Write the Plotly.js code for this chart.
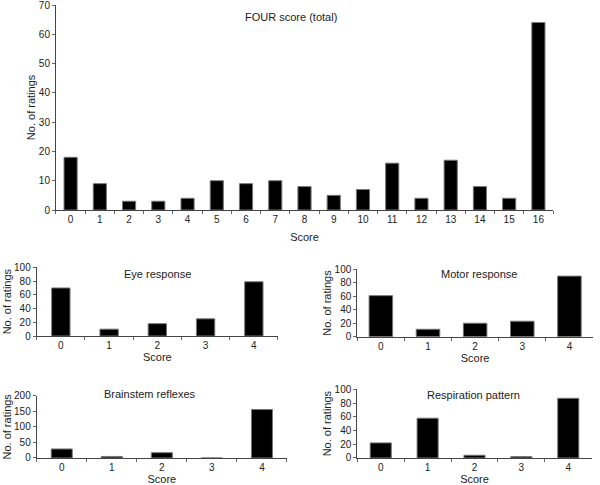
<!DOCTYPE html>
<html><head><meta charset="utf-8">
<script src="https://cdn.plot.ly/plotly-3.0.1.min.js"></script>
<style>html,body{margin:0;padding:0;background:#fff}#chart{width:600px;height:485px}</style>
</head><body><div id="chart"></div>
<script>
const totalScores = ["0","1","2","3","4","5","6","7","8","9","10","11","12","13","14","15","16"];
const totalCounts = [18,9,3,3,4,10,9,10,8,5,7,16,4,17,8,4,64];
const subScores = ["0","1","2","3","4"];
const eyeCounts = [70,10,18,25,79];
const motorCounts = [61,11,20,23,90];
const brainstemCounts = [29,5,17,0,156];
const respirationCounts = [22,58,4,2,87];
const panelTitles = ["FOUR score (total)","Eye response","Motor response","Brainstem reflexes","Respiration pattern"];
const xTitle = "Score";
const yTitle = "No. of ratings";

const FONT = "Liberation Sans, Arial, sans-serif";
const barStyle = {color:"#000", line:{color:"#777", width:1}};

function bar(x, y, xa, ya, w){
  return {type:"bar", x:x, y:y, xaxis:xa, yaxis:ya, width:w, marker:barStyle, hoverinfo:"x+y"};
}
const data = [
  bar(totalScores, totalCounts, "x", "y", 0.45),
  bar(subScores, eyeCounts, "x2", "y2", 0.38),
  bar(subScores, motorCounts, "x3", "y3", 0.5),
  bar(subScores, brainstemCounts, "x4", "y4", 0.42),
  bar(subScores, respirationCounts, "x5", "y5", 0.45)
];

function xax(domain, anchor, size, tsize, standoff){
  return {domain:domain, anchor:anchor, type:"category", tickson:"boundaries",
    ticks:"outside", ticklen:3, tickcolor:"#666", showline:true, linecolor:"#444", linewidth:1,
    showgrid:false, zeroline:false, tickfont:{size:size, color:"#222"}, ticklabeloverflow:"allow",
    title:{text:xTitle, font:{size:tsize, color:"#222"}, standoff:standoff}, automargin:false, fixedrange:true};
}
function yax(domain, anchor, range, dtick, size, tsize, standoff){
  return {domain:domain, anchor:anchor, range:range, tick0:0, dtick:dtick, ticks:"outside", ticklen:3,
    tickcolor:"#666", showline:true, linecolor:"#444", linewidth:1, showgrid:false, zeroline:false,
    tickfont:{size:size, color:"#222"}, ticklabeloverflow:"allow",
    title:{text:yTitle, font:{size:tsize, color:"#222"}, standoff:standoff},
    automargin:false, fixedrange:true};
}

function ann(i, px, py){
  return {text:panelTitles[i], xref:"paper", yref:"paper", x:px/600, y:1-py/485,
    xanchor:"center", yanchor:"middle", showarrow:false, font:{size:11}};
}

const layout = {
  width:600, height:485, margin:{l:0,r:0,t:0,b:0}, paper_bgcolor:"#fff", plot_bgcolor:"#fff",
  showlegend:false, font:{family:FONT, color:"#222"},
  xaxis: xax([0.0933,0.9217], "y", 10, 11, 9),
  yaxis: yax([0.567,0.990], "x", [0,70.05], 10, 10, 11, 0),
  xaxis2: xax([0.0612,0.4633], "y2", 10, 11, 1),
  yaxis2: yax([0.3072,0.4489], "x2", [0,100.1], 20, 10, 11, 0),
  xaxis3: xax([0.5955,0.9883], "y3", 10, 11, 1),
  yaxis3: yax([0.3058,0.4447], "x3", [0,100.1], 20, 10, 11, 0),
  xaxis4: xax([0.0612,0.4783], "y4", 10, 11, 1),
  yaxis4: yax([0.0557,0.1841], "x4", [0,200.2], 50, 10, 11, 0),
  xaxis5: xax([0.5955,0.9862], "y5", 10, 11, 1),
  yaxis5: yax([0.0557,0.1973], "x5", [0,100.1], 20, 10, 11, 0),
  annotations: [
    ann(0, 291, 17), ann(1, 158, 274), ann(2, 479, 274), ann(3, 150, 394), ann(4, 473, 395)
  ]
};
Plotly.newPlot("chart", data, layout, {displayModeBar:false, staticPlot:true});
</script></body></html>
